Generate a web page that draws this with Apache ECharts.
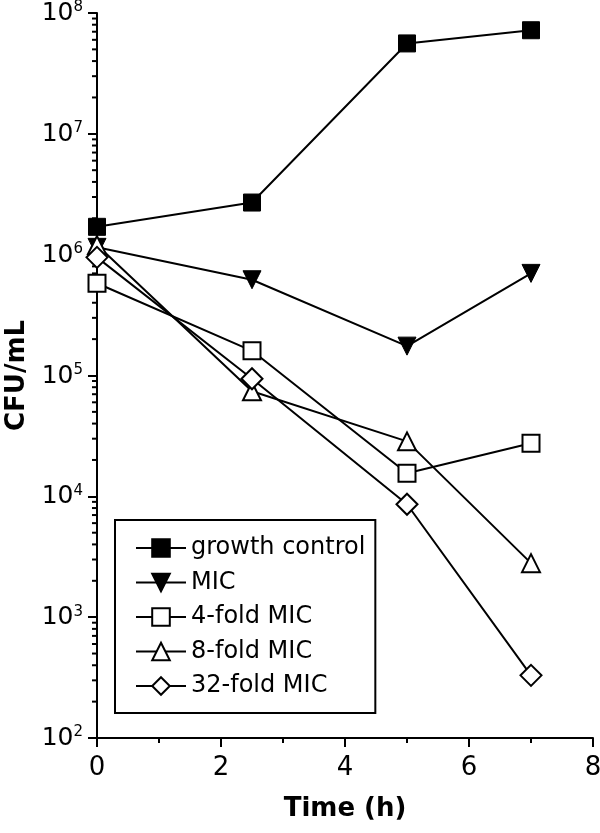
<!DOCTYPE html>
<html>
<head>
<meta charset="utf-8">
<script src="https://cdn.jsdelivr.net/npm/echarts@6/dist/echarts.min.js"></script>
<style>
html,body{margin:0;padding:0;background:#fff;}
#chart{width:600px;height:833px;}
</style>
</head>
<body>
<div id="chart"></div>
<script>
// ---- data ----
const seriesNames = ['growth control', 'MIC', '4-fold MIC', '8-fold MIC', '32-fold MIC'];
const times = [0, 2.5, 5, 7];
const growthControl = [1.7e6, 2.7e6, 5.6e7, 7.2e7];
const mic = [1.15e6, 6.2e5, 1.75e5, 7.0e5];
const fold4 = [5.8e5, 1.6e5, 1.55e4, 2.75e4];
const fold8 = [1.2e6, 7.4e4, 2.85e4, 2.8e3];
const fold32 = [9.5e5, 9.4e4, 8.6e3, 330];
const xTicks = [0, 2, 4, 6, 8];
const yTickExponents = [2, 3, 4, 5, 6, 7, 8];
const yMinorMultipliers = [2, 3, 4, 5, 6, 7, 8, 9];

// minor tick values for the log axis (2..9 x each decade)
const yMinorValues = [];
for (let e = yTickExponents[0]; e < yTickExponents[yTickExponents.length - 1]; e++) {
  yMinorMultipliers.forEach(m => yMinorValues.push(m * Math.pow(10, e)));
}

const FONT = '"DejaVu Sans", Arial, sans-serif';

function pairs(vals) { return times.map((t, i) => [t, vals[i]]); }

function lineSeries(name, vals, symbol, size, filled, rotate) {
  return {
    name: name,
    type: 'line',
    data: pairs(vals),
    symbol: symbol,
    symbolSize: size,
    symbolRotate: rotate || 0,
    showAllSymbol: true,
    lineStyle: { color: '#000', width: 2 },
    itemStyle: filled
      ? { color: '#000', borderColor: '#000', borderWidth: 1 }
      : { color: '#fff', borderColor: '#000', borderWidth: 2 },
    emphasis: { disabled: true },
    z: 3
  };
}

const chart = echarts.init(document.getElementById('chart'), null, { renderer: 'canvas' });

const option = {
  animation: false,
  backgroundColor: '#fff',
  textStyle: { fontFamily: FONT, color: '#000' },
  grid: { left: 97, right: 7, top: 13, bottom: 95, containLabel: false, outerBoundsMode: 'none' },
  legend: {
    data: seriesNames,
    orient: 'vertical',
    left: 115,
    top: 520,
    padding: [16, 10, 15, 20],
    itemGap: 10.5,
    itemWidth: 50,
    itemHeight: 22,
    borderColor: '#000',
    borderWidth: 2,
    textStyle: { fontFamily: FONT, fontSize: 24, color: '#000', lineHeight: 24 },
    selectedMode: false
  },
  xAxis: {
    type: 'value',
    min: xTicks[0],
    max: xTicks[xTicks.length - 1],
    interval: 2,
    name: 'Time (h)',
    nameLocation: 'middle',
    nameGap: 58,
    nameTextStyle: { fontFamily: FONT, fontSize: 26, fontWeight: 'bold', color: '#000' },
    axisLine: { lineStyle: { color: '#000', width: 2 } },
    axisTick: { length: 9, lineStyle: { color: '#000', width: 2 } },
    minorTick: { show: true, splitNumber: 2, length: 5, lineStyle: { color: '#000', width: 2 } },
    axisLabel: { fontFamily: FONT, fontSize: 26, color: '#000', margin: 17 },
    splitLine: { show: false }
  },
  yAxis: {
    type: 'log',
    logBase: 10,
    min: Math.pow(10, yTickExponents[0]),
    max: Math.pow(10, yTickExponents[yTickExponents.length - 1]),
    interval: 1,
    name: 'CFU/mL',
    nameLocation: 'middle',
    nameRotate: 90,
    nameGap: 66,
    nameTextStyle: { fontFamily: FONT, fontSize: 26, fontWeight: 'bold', color: '#000' },
    axisLine: { show: true, lineStyle: { color: '#000', width: 2 } },
    axisTick: { length: 9, lineStyle: { color: '#000', width: 2 } },
    axisLabel: {
      margin: 14,
      formatter: function (v) {
        const e = Math.round(Math.log10(v));
        return '{b|10}{s|' + e + '}';
      },
      rich: {
        b: { fontFamily: FONT, fontSize: 25, color: '#000', lineHeight: 26, verticalAlign: 'bottom' },
        s: { fontFamily: FONT, fontSize: 15, color: '#000', lineHeight: 26, verticalAlign: 'top', padding: [0, 0, 10, 0] }
      }
    },
    splitLine: { show: false }
  },
  series: [
    lineSeries(seriesNames[0], growthControl, 'rect', 17, true),
    lineSeries(seriesNames[1], mic, 'triangle', 18, true, 180),
    lineSeries(seriesNames[2], fold4, 'rect', 17, false),
    lineSeries(seriesNames[3], fold8, 'triangle', 18, false),
    lineSeries(seriesNames[4], fold32, 'diamond', 21, false),
    {
      name: 'yMinorTicks',
      type: 'custom',
      silent: true,
      clip: false,
      data: yMinorValues.map(v => [xTicks[0], v]),
      renderItem: function (params, api) {
        const p = api.coord([api.value(0), api.value(1)]);
        return {
          type: 'line',
          shape: { x1: p[0] - 5, y1: p[1], x2: p[0], y2: p[1] },
          style: { stroke: '#000', lineWidth: 2 }
        };
      },
      z: 1
    }
  ]
};

chart.setOption(option);
</script>
</body>
</html>
